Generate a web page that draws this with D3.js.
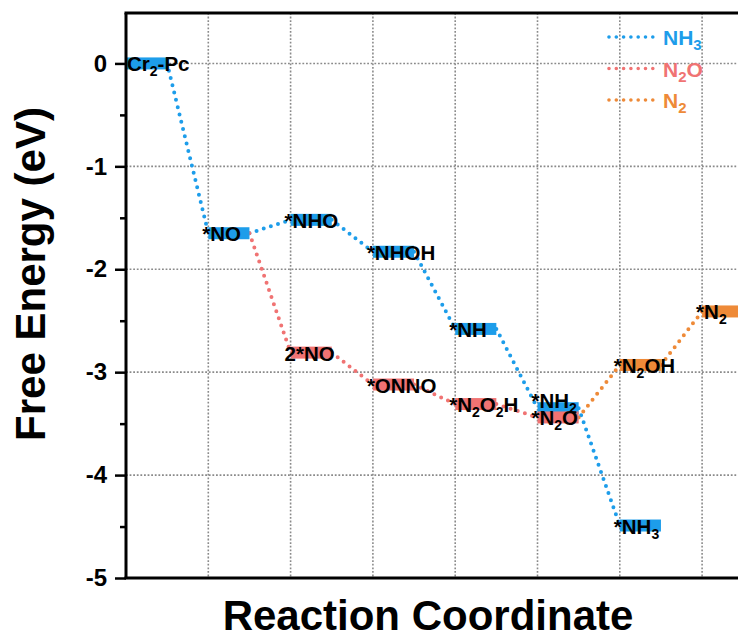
<!DOCTYPE html>
<html>
<head>
<meta charset="utf-8">
<script src="https://cdn.jsdelivr.net/npm/d3@7"></script>
<style>
    html, body { margin: 0; padding: 0; background: #fff; }
    svg { display: block; font-family: Arial, 'Liberation Sans', sans-serif; }
</style>
</head>
<body>
<div id="chart"></div>
<script>
// Reaction path data ('_x' marks a subscript character)
var nh3Labels = ['Cr_2-Pc', '*NO', '*NHO', '*NHOH', '*NH', '*NH_2', '*NH_3'];
var nh3Steps = [0, 1, 2, 3, 4, 5, 6];
var nh3Energy = [0, -1.65, -1.52, -1.83, -2.58, -3.35, -4.49];

var n2oLabels = ['*NO', '2*NO', '*ONNO', '*N_2O_2H', '*N_2O'];
var n2oSteps = [1, 2, 3, 4, 5];
var n2oEnergy = [-1.65, -2.81, -3.12, -3.31, -3.44];

var n2Labels = ['*N_2O', '*N_2OH', '*N_2'];
var n2Steps = [5, 6, 7];
var n2Energy = [-3.44, -2.93, -2.41];

var legendNames = ['NH_3', 'N_2O', 'N_2'];
var yTicks = [-5, -4, -3, -2, -1, 0];
var yMinorTicks = [-4.5, -3.5, -2.5, -1.5, -0.5];
var xGrid = [1, 2, 3, 4, 5, 6, 7];

var colors = ['#1D9DEA', '#F07373', '#EE8A38'];

var series = [
    { labels: nh3Labels, steps: nh3Steps, energy: nh3Energy },
    { labels: n2oLabels, steps: n2oSteps, energy: n2oEnergy },
    { labels: n2Labels, steps: n2Steps, energy: n2Energy },
];

var W = 738, H = 639;
var x = d3.scaleLinear().domain([0, 8]).range([126, 126 + 8 * 82.3]);
var y = d3.scaleLinear().domain([-5, 0.49]).range([578, 13]);

var svg = d3.select('#chart').append('svg').attr('width', W).attr('height', H);

// write text with subscripts into a text element
function richText(sel, str, subSize) {
    var parts = [];
    var buf = '';
    for (var i = 0; i < str.length; i++) {
        if (str[i] === '_' && i + 1 < str.length) {
            if (buf) parts.push({ t: buf, sub: false });
            buf = '';
            parts.push({ t: str[i + 1], sub: true });
            i++;
        } else {
            buf += str[i];
        }
    }
    if (buf) parts.push({ t: buf, sub: false });
    var shifted = false;
    parts.forEach(function (p) {
        var ts = sel.append('tspan').text(p.t);
        if (p.sub && !shifted) {
            ts.attr('dy', 5).attr('font-size', subSize);
            shifted = true;
        } else if (!p.sub && shifted) {
            ts.attr('dy', -5);
            shifted = false;
        }
    });
}

// Grid
var grid = svg.append('g').attr('stroke', '#8a8a8a').attr('stroke-width', 1.6).attr('stroke-dasharray', '1.8,1.8');
grid.selectAll('line.h')
    .data(yTicks.filter(function (d) { return d > -5; }))
    .enter().append('line')
    .attr('x1', x(0)).attr('x2', W)
    .attr('y1', function (d) { return y(d); })
    .attr('y2', function (d) { return y(d); });
grid.selectAll('line.v')
    .data(xGrid)
    .enter().append('line')
    .attr('x1', function (d) { return x(d); })
    .attr('x2', function (d) { return x(d); })
    .attr('y1', y(0.49)).attr('y2', y(-5));

// Connectors
var line = d3.line().x(function (d) { return x(d[0]); }).y(function (d) { return y(d[1]); });
series.forEach(function (s, si) {
    for (var i = 0; i < s.steps.length - 1; i++) {
        svg.append('path')
            .attr('d', line([[s.steps[i] + 0.5, s.energy[i]], [s.steps[i + 1], s.energy[i + 1]]]))
            .attr('fill', 'none')
            .attr('stroke', colors[si])
            .attr('stroke-width', 4)
            .attr('stroke-linecap', 'round')
            .attr('stroke-dasharray', '0,7.5');
    }
});

// Level bars (shared starting levels are drawn by the earlier series)
var levels = [];
series.forEach(function (s, si) {
    s.steps.forEach(function (st, i) {
        if (si > 0 && i === 0) return;
        levels.push({ step: st, e: s.energy[i], label: s.labels[i], color: colors[si] });
    });
});
svg.selectAll('rect.level')
    .data(levels)
    .enter().append('rect')
    .attr('x', function (d) { return x(d.step); })
    .attr('y', function (d) { return y(d.e) - 6; })
    .attr('width', x(0.5) - x(0))
    .attr('height', 12)
    .attr('fill', function (d) { return d.color; });

// Level labels; a level sitting just above another on the same step gets its label lifted
levels.forEach(function (d) {
    var below = levels.some(function (o) {
        return o !== d && o.step === d.step && o.e < d.e && d.e - o.e < 0.2;
    });
    var t = svg.append('text')
        .attr('x', x(d.step) - (d.step === 0 ? -1 : 6))
        .attr('y', y(d.e) + (below ? 0 : 8))
        .attr('font-size', 20.5)
        .attr('font-weight', 'bold')
        .attr('fill', '#000');
    richText(t, d.label, 14);
});

// Axes
var yAxis = d3.axisLeft(y).tickValues(yTicks).tickSize(11).tickPadding(8)
    .tickFormat(function (d) { return String(d); });
var gy = svg.append('g').attr('transform', 'translate(' + x(0) + ',0)').call(yAxis);
gy.select('.domain').attr('stroke-width', 3).attr('d', 'M0,' + y(0.49) + 'V' + y(-5));
gy.selectAll('.tick line').attr('stroke-width', 2.5);
gy.selectAll('.tick text').attr('font-size', 24).attr('font-weight', 'bold')
    .attr('font-family', "Arial, 'Liberation Sans', sans-serif").attr('fill', '#000');
var yMinor = d3.axisLeft(y).tickValues(yMinorTicks).tickSize(6).tickFormat('');
var gm = svg.append('g').attr('transform', 'translate(' + x(0) + ',0)').call(yMinor);
gm.select('.domain').remove();
gm.selectAll('.tick line').attr('stroke-width', 2.5);

// Frame top and bottom
svg.append('line').attr('x1', x(0) - 1.5).attr('x2', W).attr('y1', y(0.49)).attr('y2', y(0.49))
    .attr('stroke', '#000').attr('stroke-width', 3);
svg.append('line').attr('x1', x(0) - 1.5).attr('x2', W).attr('y1', y(-5)).attr('y2', y(-5))
    .attr('stroke', '#000').attr('stroke-width', 3);

// Axis titles
svg.append('text')
    .attr('transform', 'translate(45,' + 274 + ') rotate(-90)')
    .attr('text-anchor', 'middle')
    .attr('font-size', 42)
    .attr('font-weight', 'bold')
    .text('Free Energy (eV)');
svg.append('text')
    .attr('x', 428)
    .attr('y', 630)
    .attr('text-anchor', 'middle')
    .attr('font-size', 42)
    .attr('font-weight', 'bold')
    .text('Reaction Coordinate');

// Legend
var legend = svg.append('g').attr('transform', 'translate(607,37)');
legendNames.forEach(function (name, i) {
    var g = legend.append('g').attr('transform', 'translate(0,' + i * 31.5 + ')');
    g.append('line')
        .attr('x1', 2).attr('x2', 46).attr('y1', 0).attr('y2', 0)
        .attr('stroke', colors[i]).attr('stroke-width', 3.6)
        .attr('stroke-linecap', 'round').attr('stroke-dasharray', '0,7.3');
    var t = g.append('text')
        .attr('x', 56).attr('y', 8)
        .attr('font-size', 21).attr('font-weight', 'bold')
        .attr('fill', colors[i]);
    richText(t, name, 15);
});
</script>
</body>
</html>
